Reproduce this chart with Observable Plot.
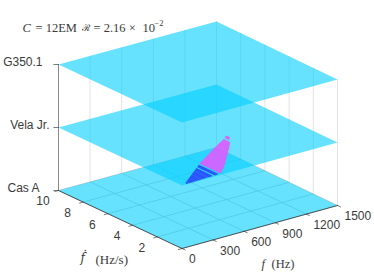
<!DOCTYPE html>
<html><head><meta charset="utf-8">
<script src="https://cdn.jsdelivr.net/npm/d3@7"></script>
<script src="https://cdn.jsdelivr.net/npm/@observablehq/plot@0.6"></script>
<style>html,body{margin:0;padding:0;background:#fff}svg{display:block}</style>
</head><body><div id="chart"></div>
<script>
const fTicks=[0,300,600,900,1200,1500];
const fdotTicks=[0,2,4,6,8,10];
const surveys=["Cas A","Vela Jr.","G350.1"];
const surveyLevels=[0,1,2];
const blobLevel=1;
// searched bands: frequency (Hz) with lower and upper spin-down (Hz/s)
const blueF=[60,80,100,120,140,160,180,200,220,240,260,280,300,340,360];
const blueHi=[.2,.3,.4,.5,.6,.7,.8,.9,1.0,1.1,1.2,1.3,1.4,1.6,1.7];
const blueLo=[.05,.05,.06,.06,.07,.08,.08,.09,.09,.10,.11,.11,.12,.13,.14];
const pinkF=[400,420,440,460,480,500,520,540,560,580,600,620,640,660,680,700,720,740,760,780,800,820,840,880,900];
const pinkHi=[1.9,1.98,2.07,2.16,2.24,2.33,2.42,2.5,2.59,2.68,2.77,2.85,2.94,3.03,3.11,3.2,3.28,3.36,3.44,3.52,3.6,3.68,3.76,3.94,4.05];
const pinkLo=[.2,.32,.43,.55,.66,.8,.94,1.07,1.2,1.34,1.48,1.62,1.76,1.9,2.03,2.17,2.32,2.46,2.6,2.75,2.9,3.05,3.2,3.6,3.75];

const proj=(f,d,l)=>{
  const u=f/1500,v=d/10;
  return {x:181.5+155.5*u-123.5*v+2.5*u*v,y:248-43*u-58*v-l*63};
};
const seg=(a,b,k)=>[{...a,k},{...b,k}];
const wall=[
  ...fTicks.flatMap(f=>seg(proj(f,10,0),proj(f,10,2),"f"+f)),
  ...fdotTicks.flatMap(d=>seg(proj(1500,d,0),proj(1500,d,2),"d"+d))
];
const floor=[
  ...fTicks.flatMap(f=>seg(proj(f,0,0),proj(f,10,0),"f"+f)),
  ...fdotTicks.flatMap(d=>seg(proj(0,d,0),proj(1500,d,0),"d"+d))
];
const ticks=[
  ...fTicks.flatMap(f=>seg(proj(f,0,0),proj(f,-0.25,0),"f"+f)),
  ...fdotTicks.flatMap(d=>seg(proj(0,d,0),proj(-35,d,0),"d"+d)),
  ...surveyLevels.flatMap(l=>seg(proj(0,10,l),proj(-45,10,l+0.02),"l"+l))
];
const plane=l=>[[0,0],[1500,0],[1500,10],[0,10]].map(([f,d])=>proj(f,d,l));
const bands=(F,Lo,Hi)=>F.map((f,i)=>({i,a:proj(f,Lo[i],blobLevel),b:proj(f,Hi[i],blobLevel)}));
const band=(F,Lo,Hi,c1,c2)=>Plot.link(bands(F,Lo,Hi),{x1:d=>d.a.x,y1:d=>d.a.y,x2:d=>d.b.x,y2:d=>d.b.y,stroke:d=>d.i%3===1?c2:c1,strokeWidth:1.5});
const pc="rgb(0,207,255)";
const ink="#3a3a3a";
const sans={fontSize:12,fill:ink,fontFamily:"Liberation Sans"};
const serif={fontSize:12.5,fill:ink,fontFamily:"Liberation Serif"};
const label=(t,x,y,o)=>Plot.text([t],{x:()=>x,y:()=>y,text:d=>d,lineAnchor:"middle",...o});
const marks=[
  Plot.line(wall,{x:"x",y:"y",z:"k",stroke:"#e3e3e3",strokeWidth:1}),
  Plot.line(floor,{x:"x",y:"y",z:"k",stroke:"#bdbdbd",strokeWidth:0.7}),
  Plot.line([proj(0,10,0),proj(0,10,2)],{x:"x",y:"y",stroke:"#8a8a8a",strokeWidth:1}),
  ...surveyLevels.map(l=>Plot.line(plane(l),{x:"x",y:"y",fill:pc,fillOpacity:0.6,stroke:"none",curve:"linear-closed"})),
  Plot.line(ticks,{x:"x",y:"y",z:"k",stroke:"#444",strokeWidth:0.7}),
  Plot.line([proj(0,10,0),proj(0,0,0),proj(1500,0,0)],{x:"x",y:"y",stroke:"#333",strokeWidth:0.8}),
  band(blueF,blueLo,blueHi,"#2a4bff","#2f55ff"),
  band(pinkF,pinkLo,pinkHi,"#e05cff","#d660ff"),
  Plot.text(fTicks,{x:f=>proj(f,0,0).x+7,y:f=>proj(f,0,0).y+11,text:d=>String(d),textAnchor:"start",lineAnchor:"middle",...sans}),
  Plot.text(fdotTicks.slice(1),{x:d=>proj(0,d,0).x-15.5,y:d=>proj(0,d,0).y+11,text:d=>String(d),textAnchor:"middle",lineAnchor:"middle",...sans}),
  label(surveys[0],proj(0,10,0).x-19,proj(0,10,0).y-2,{textAnchor:"end",...sans}),
  label(surveys[1],proj(0,10,1).x-9,proj(0,10,1).y-2,{textAnchor:"end",...sans}),
  label(surveys[2],proj(0,10,2).x-16,proj(0,10,2).y-2,{textAnchor:"end",...sans}),
  label("C",22,27,{textAnchor:"start",fontStyle:"italic",...serif}),
  label("= 12EM",35,27,{textAnchor:"start",...serif}),
  label("ℛ",81,27,{textAnchor:"start",...serif,fontSize:9.5}),
  label("= 2.16 ×",93,27,{textAnchor:"start",...serif}),
  label("10",142,27,{textAnchor:"start",...serif}),
  label("−2",154,23,{textAnchor:"start",...serif,fontSize:8.5}),
  label("f",261,263,{textAnchor:"start",fontStyle:"italic",...serif}),
  label("(Hz)",271,263,{textAnchor:"start",...serif}),
  label("ḟ",80,258,{textAnchor:"start",fontStyle:"italic",...serif,fontFamily:"DejaVu Serif",fontSize:12}),
  label("(Hz/s)",95,259,{textAnchor:"start",...serif,fontSize:13})
];
document.getElementById("chart").append(Plot.plot({
  width:374,height:280,margin:0,
  x:{domain:[0,374],range:[0,374],axis:null},
  y:{domain:[0,280],range:[0,280],axis:null},
  marks
}));
</script></body></html>
